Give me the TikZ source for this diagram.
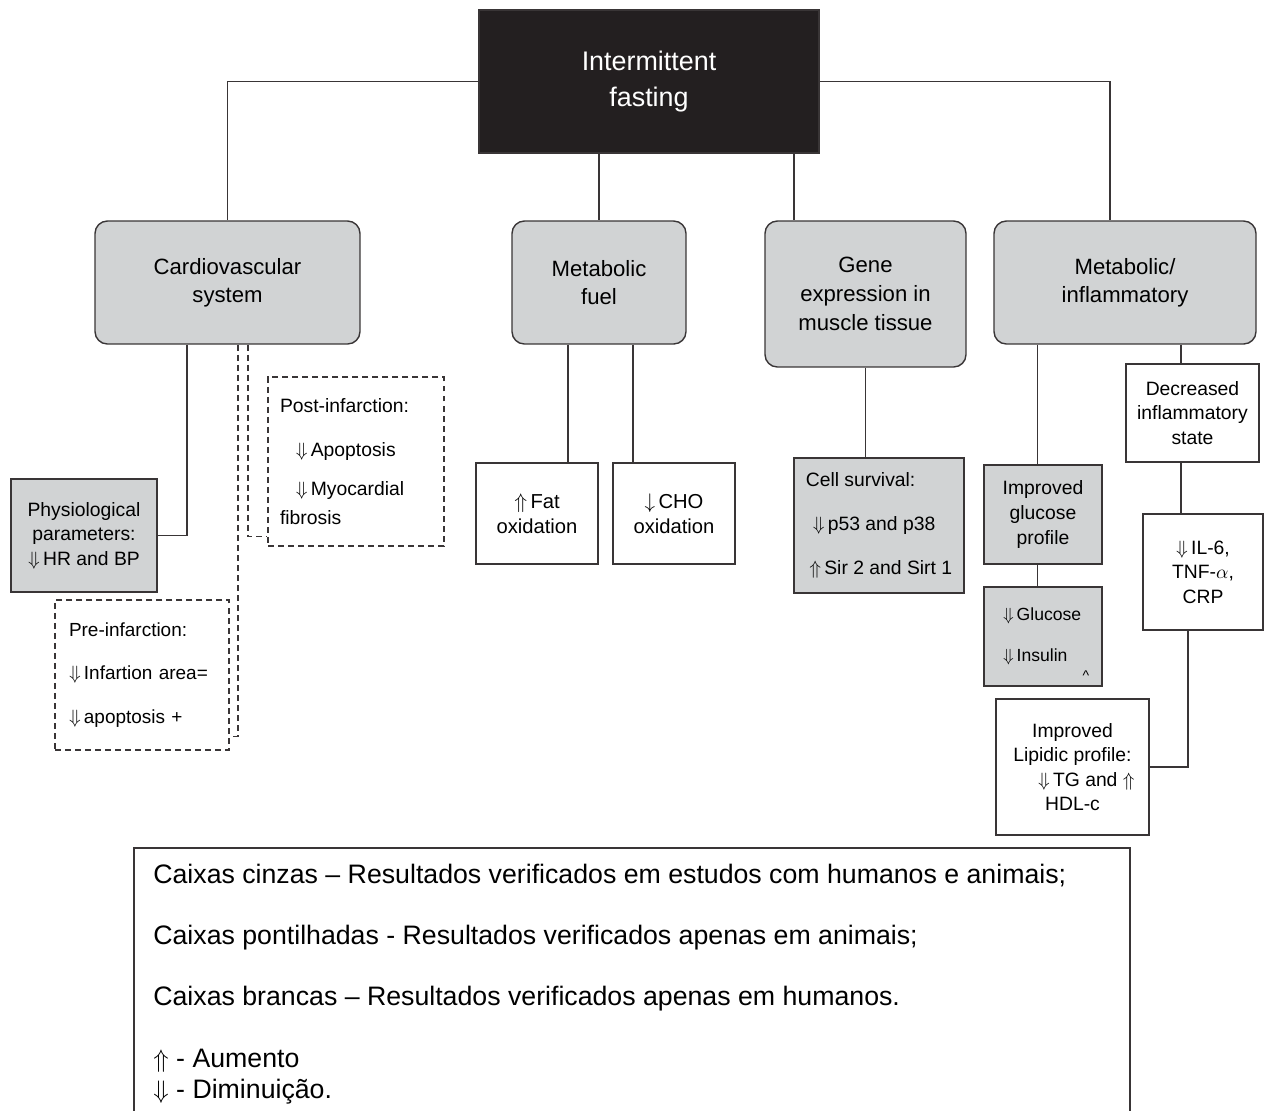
\documentclass[tikz,border=0pt]{standalone}
\usepackage{fontspec}
\setmainfont{Liberation Sans}
\usepackage{tikz}
\usetikzlibrary{positioning}

\definecolor{boxgray}{HTML}{D1D3D4}
\definecolor{inkdark}{HTML}{231F20}

\newcommand{\dnar}{$\Downarrow$\,}
\newcommand{\upar}{$\Uparrow$\,}

\tikzset{
  box/.style={draw=inkdark!90, line width=0.8pt, align=center, inner sep=2pt,
    font=\fontsize{11}{14}\selectfont},
  titlebox/.style={box, fill=inkdark, text=white, font=\fontsize{15.3}{20.4}\selectfont},
  grayrbox/.style={box, fill=boxgray, rounded corners=7pt, font=\fontsize{12.6}{15.8}\selectfont},
  graybox/.style={box, fill=boxgray},
  whitebox/.style={box, fill=white},
  animalbox/.style={box, dash pattern=on 3.4pt off 2.3pt, line width=0.7pt},
  link/.style={draw=inkdark!90, line width=0.6pt},
  dlink/.style={link, dash pattern=on 3.4pt off 2.3pt}
}

\begin{document}
\begin{tikzpicture}[x=0.02cm, y=-0.02cm]
  \useasboundingbox (0,0) rectangle (1265,1110);

  % topo
  \node[titlebox, minimum width=6.8cm, minimum height=2.86cm] (fast) at (649,81.5) {Intermittent\\fasting};

  % categorias
  \node[grayrbox, minimum width=5.3cm, minimum height=2.46cm] (cv) at (227.5,282.5) {Cardiovascular\\system};
  \node[grayrbox, minimum width=3.48cm, minimum height=2.46cm] (fuel) at (599,282.5) {Metabolic\\fuel};
  \node[grayrbox, minimum width=4.02cm, minimum height=2.92cm, font=\fontsize{12.6}{16.3}\selectfont] (gene) at (865.5,294)
    {Gene\\expression in\\muscle tissue};
  \node[grayrbox, minimum width=5.24cm, minimum height=2.46cm] (mi) at (1125,282.5) {Metabolic/\\inflammatory};

  \draw[link] (fast.west) -| (cv.north);
  \draw[link] (fast.east) -| ([xshift=-0.3cm]mi.north);
  \draw[link] (fuel.north |- fast.south) -- (fuel.north);
  \coordinate (geT) at ([xshift=-1.43cm]gene.north);
  \draw[link] (geT |- fast.south) -- (geT);

  % cardiovascular
  \node[graybox, minimum width=2.92cm, minimum height=2.26cm] (phys) at (84,535.5) {Physiological\\parameters:\\\dnar HR and BP};
  \node[animalbox, text width=3.04cm, inner xsep=0.24cm, minimum height=3.38cm, align=left,
    font=\fontsize{11}{16.5}\selectfont] (post) at (356,461.5)
    {Post-infarction:\\[8.5pt]\hspace*{9pt}\dnar Apoptosis\\[6pt]\hspace*{9pt}\dnar Myocardial\\fibrosis};
  \node[animalbox, text width=2.92cm, inner xsep=0.28cm, minimum height=3cm, align=left,
    font=\fontsize{10.8}{14}\selectfont] (pre) at (142,675)
    {Pre-infarction:\\[10.7pt]\dnar Infartion area=\\[10.7pt]\dnar apoptosis +};

  \coordinate (cvA) at ([xshift=-0.81cm]cv.south);
  \coordinate (cvB) at ([xshift=0.21cm]cv.south);
  \coordinate (cvC) at ([xshift=0.41cm]cv.south);
  \draw[link] (cvA) |- (phys.east);
  \draw[dlink] (cvB) |- ([yshift=0.28cm]pre.south east);
  \draw[dlink] (cvC) |- ([yshift=0.2cm]post.south west);

  % combustivel
  \node[whitebox, minimum width=2.44cm, minimum height=2.02cm, font=\fontsize{11.5}{14.2}\selectfont] (fat) at (537,513.5) {\upar Fat\\oxidation};
  \node[whitebox, minimum width=2.44cm, minimum height=2.02cm, font=\fontsize{11.5}{14.2}\selectfont] (cho) at (674,513.5) {$\downarrow$\,CHO\\oxidation};
  \coordinate (fuA) at ([xshift=-0.62cm]fuel.south);
  \coordinate (fuB) at ([xshift=0.68cm]fuel.south);
  \draw[link] (fuA) -- (fuA |- fat.north);
  \draw[link] (fuB) -- (fuB |- cho.north);

  % expressao genica
  \node[graybox, minimum width=3.4cm, minimum height=2.7cm, align=left] (cell) at (879,525.5)
    {Cell survival:\\[11pt]\hspace*{4pt}\dnar p53 and p38\\[11pt]\hspace*{2pt}\upar Sir 2 and Sirt 1};
  \draw[link] (gene.south) -- (gene.south |- cell.north);

  % metabolico / inflamatorio
  \node[graybox, minimum width=2.36cm, minimum height=1.98cm] (gprof) at (1043,514.5) {Improved\\glucose\\profile};
  \node[graybox, text width=1.6cm, inner xsep=0.38cm, minimum height=1.98cm, align=left,
    font=\fontsize{10}{13}\selectfont] (gluc) at (1043,636.5) {\dnar Glucose\\[10pt]\dnar Insulin};
  \node[font=\fontsize{8}{9}\selectfont, inner sep=0pt] (caret) at (1086,676) {\textasciicircum};
  \node[whitebox, minimum width=2.66cm, minimum height=1.96cm] (dec) at (1192.5,413) {Decreased\\inflammatory\\state};
  \node[whitebox, minimum width=2.4cm, minimum height=2.32cm] (il) at (1203,572) {\dnar IL-6,\\TNF-$\alpha$,\\CRP};
  \node[whitebox, minimum width=3.06cm, minimum height=2.72cm] (lip) at (1072.5,767)
    {Improved\\Lipidic profile:\\\hspace{1.6em}\dnar TG and \upar\\HDL-c};

  \coordinate (miA) at ([xshift=-1.76cm]mi.south);
  \coordinate (miB) at ([xshift=1.12cm]mi.south);
  \draw[link] (miA) -- (miA |- gprof.north);
  \draw[link] (miA |- gprof.south) -- (miA |- gluc.north);
  \draw[link] (miB) -- (miB |- dec.north);
  \draw[link] (miB |- dec.south) -- (miB |- il.north);
  \draw[link] ([xshift=-0.3cm]il.south) |- (lip.east);

  % legenda
  \draw[link, line width=0.8pt] (134,1115) -- (134,848) -- (1130,848) -- (1130,1115);
  \foreach \y/\t [count=\i] in {876/{Caixas cinzas – Resultados verificados em estudos com humanos e animais;},
      938/{Caixas pontilhadas - Resultados verificados apenas em animais;},
      999/{Caixas brancas – Resultados verificados apenas em humanos.},
      1061/{$\Uparrow$ - Aumento},
      1092/{$\Downarrow$ - Diminuição.}} {
    \node[anchor=west, inner sep=0pt, font=\fontsize{15.2}{17}\selectfont] (leg\i) at (153,\y) {\t};
  }
\end{tikzpicture}
\end{document}
